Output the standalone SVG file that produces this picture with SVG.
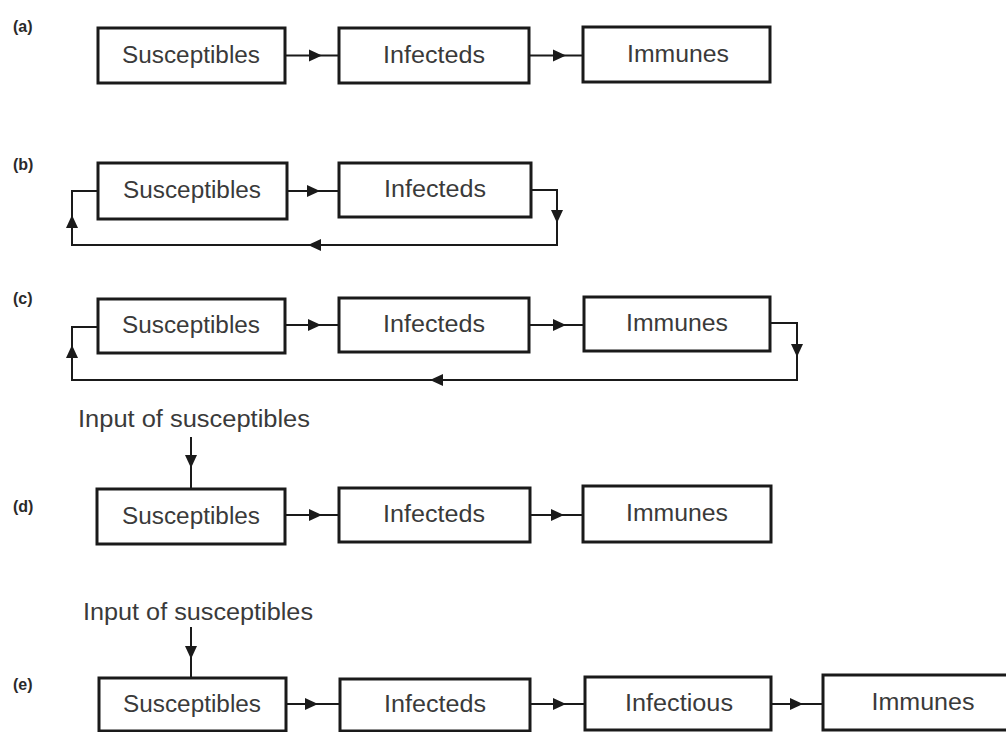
<svg xmlns="http://www.w3.org/2000/svg" xmlns:xlink="http://www.w3.org/1999/xlink" width="1006" height="732" viewBox="0 0 1006 732">
<style>
.box{fill:#fff;stroke:#1a1a1a;stroke-width:3}
.lbl{font-family:"Liberation Sans",Arial,sans-serif;font-size:23px;fill:#3a3a3a;text-anchor:middle}
.tag{font-family:"Liberation Sans",Arial,sans-serif;font-size:16px;font-weight:bold;fill:#2a2a2a}
.con{fill:none;stroke:#1a1a1a;stroke-width:2}
.ah{fill:#1a1a1a}
</style>
<defs>
<path id="ah" d="M0,0 L-13,-6 L-13,6 Z"/>
</defs>
<rect width="1006" height="732" fill="#fff"/>
<g id="tags">
<text class="tag" x="13" y="32">(a)</text>
<text class="tag" x="13" y="170">(b)</text>
<text class="tag" x="13" y="304">(c)</text>
<text class="tag" x="13" y="512">(d)</text>
<text class="tag" x="13" y="690">(e)</text>
</g>
<g id="inputs">
<text class="lbl" x="194" y="427" textLength="232" lengthAdjust="spacingAndGlyphs">Input of susceptibles</text>
<text class="lbl" x="198" y="620" textLength="230" lengthAdjust="spacingAndGlyphs">Input of susceptibles</text>
</g>
<g id="connectors">
<!-- a -->
<line class="con" x1="285" y1="55.5" x2="339" y2="55.5"/>
<use class="ah" xlink:href="#ah" transform="translate(322,55.5)"/>
<line class="con" x1="529" y1="55.5" x2="583" y2="55.5"/>
<use class="ah" xlink:href="#ah" transform="translate(566,55.5)"/>
<!-- b -->
<line class="con" x1="287" y1="191" x2="339" y2="191"/>
<use class="ah" xlink:href="#ah" transform="translate(320,191)"/>
<path class="con" d="M531,190 H557 V245 H72 V191 H98"/>
<use class="ah" xlink:href="#ah" transform="translate(557,223) rotate(90)"/>
<use class="ah" xlink:href="#ah" transform="translate(308,245) rotate(180)"/>
<use class="ah" xlink:href="#ah" transform="translate(72,215) rotate(-90)"/>
<!-- c -->
<line class="con" x1="285" y1="325" x2="339" y2="325"/>
<use class="ah" xlink:href="#ah" transform="translate(321,325)"/>
<line class="con" x1="529" y1="325" x2="584" y2="325"/>
<use class="ah" xlink:href="#ah" transform="translate(566,325)"/>
<path class="con" d="M770,323 H797 V380 H72 V327 H98"/>
<use class="ah" xlink:href="#ah" transform="translate(797,357) rotate(90)"/>
<use class="ah" xlink:href="#ah" transform="translate(430,380) rotate(180)"/>
<use class="ah" xlink:href="#ah" transform="translate(72,345) rotate(-90)"/>
<!-- d -->
<line class="con" x1="191" y1="437" x2="191" y2="488"/>
<use class="ah" xlink:href="#ah" transform="translate(191,468) rotate(90)"/>
<line class="con" x1="285" y1="515" x2="339" y2="515"/>
<use class="ah" xlink:href="#ah" transform="translate(322,515)"/>
<line class="con" x1="530" y1="515" x2="583" y2="515"/>
<use class="ah" xlink:href="#ah" transform="translate(564,515)"/>
<!-- e -->
<line class="con" x1="191" y1="627" x2="191" y2="678"/>
<use class="ah" xlink:href="#ah" transform="translate(191,659) rotate(90)"/>
<line class="con" x1="286" y1="704" x2="340" y2="704"/>
<use class="ah" xlink:href="#ah" transform="translate(318,704)"/>
<line class="con" x1="530" y1="704" x2="585" y2="704"/>
<use class="ah" xlink:href="#ah" transform="translate(566,704)"/>
<line class="con" x1="771" y1="704" x2="823" y2="704"/>
<use class="ah" xlink:href="#ah" transform="translate(803,704)"/>
</g>
<g id="a-susceptibles"><rect class="box" x="98" y="28" width="187" height="55"/><text class="lbl" x="191" y="63" textLength="138" lengthAdjust="spacingAndGlyphs">Susceptibles</text></g>
<g id="a-infecteds"><rect class="box" x="339" y="28" width="190" height="55"/><text class="lbl" x="434" y="63" textLength="102" lengthAdjust="spacingAndGlyphs">Infecteds</text></g>
<g id="a-immunes"><rect class="box" x="583" y="27" width="187" height="55"/><text class="lbl" x="678" y="62" textLength="102" lengthAdjust="spacingAndGlyphs">Immunes</text></g>
<g id="b-susceptibles"><rect class="box" x="98" y="163" width="189" height="56"/><text class="lbl" x="192" y="198" textLength="138" lengthAdjust="spacingAndGlyphs">Susceptibles</text></g>
<g id="b-infecteds"><rect class="box" x="339" y="163" width="192" height="54"/><text class="lbl" x="435" y="197" textLength="102" lengthAdjust="spacingAndGlyphs">Infecteds</text></g>
<g id="c-susceptibles"><rect class="box" x="98" y="299" width="187" height="54"/><text class="lbl" x="191" y="333" textLength="138" lengthAdjust="spacingAndGlyphs">Susceptibles</text></g>
<g id="c-infecteds"><rect class="box" x="339" y="298" width="190" height="54"/><text class="lbl" x="434" y="332" textLength="102" lengthAdjust="spacingAndGlyphs">Infecteds</text></g>
<g id="c-immunes"><rect class="box" x="584" y="297" width="186" height="54"/><text class="lbl" x="677" y="331" textLength="102" lengthAdjust="spacingAndGlyphs">Immunes</text></g>
<g id="d-susceptibles"><rect class="box" x="97" y="489" width="188" height="55"/><text class="lbl" x="191" y="524" textLength="138" lengthAdjust="spacingAndGlyphs">Susceptibles</text></g>
<g id="d-infecteds"><rect class="box" x="339" y="488" width="191" height="54"/><text class="lbl" x="434" y="522" textLength="102" lengthAdjust="spacingAndGlyphs">Infecteds</text></g>
<g id="d-immunes"><rect class="box" x="583" y="486" width="188" height="56"/><text class="lbl" x="677" y="521" textLength="102" lengthAdjust="spacingAndGlyphs">Immunes</text></g>
<g id="e-susceptibles"><rect class="box" x="99" y="678" width="187" height="53"/><text class="lbl" x="192" y="712" textLength="138" lengthAdjust="spacingAndGlyphs">Susceptibles</text></g>
<g id="e-infecteds"><rect class="box" x="340" y="679" width="190" height="52"/><text class="lbl" x="435" y="712" textLength="102" lengthAdjust="spacingAndGlyphs">Infecteds</text></g>
<g id="e-infectious"><rect class="box" x="585" y="677" width="186" height="53"/><text class="lbl" x="679" y="711" textLength="108" lengthAdjust="spacingAndGlyphs">Infectious</text></g>
<g id="e-immunes"><rect class="box" x="823" y="675" width="190" height="55"/><text class="lbl" x="923" y="710" textLength="103" lengthAdjust="spacingAndGlyphs">Immunes</text></g>
</svg>
